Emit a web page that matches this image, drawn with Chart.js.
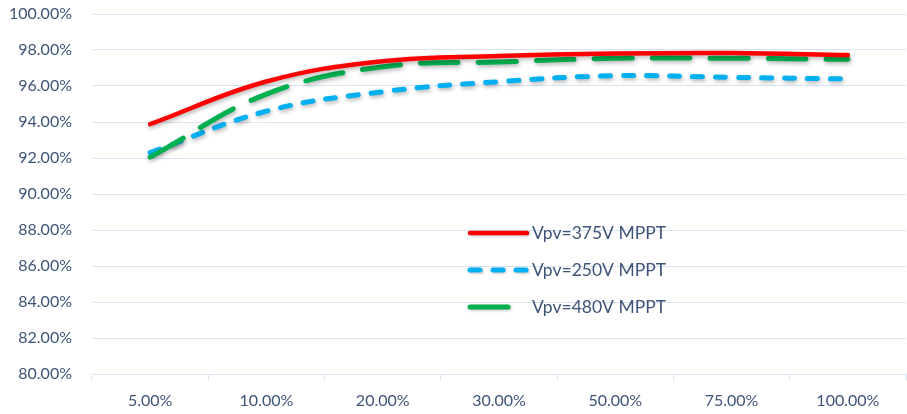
<!DOCTYPE html>
<html>
<head>
<meta charset="utf-8">
<script src="https://cdn.jsdelivr.net/npm/chart.js@4"></script>
<style>
  html, body { margin: 0; padding: 0; background: #fff; }
  #wrap { width: 907px; height: 414px; position: relative; }
</style>
</head>
<body>
<div id="wrap"><canvas id="c" width="907" height="414"></canvas></div>
<script>
const categories = ['5.00%', '10.00%', '20.00%', '30.00%', '50.00%', '75.00%', '100.00%'];
const vpv375 = [93.88, 96.25, 97.38, 97.66, 97.80, 97.83, 97.72];
const vpv250 = [92.30, 94.60, 95.68, 96.24, 96.57, 96.48, 96.39];
const vpv480 = [92.05, 95.55, 97.07, 97.33, 97.54, 97.54, 97.48];
const seriesNames = ['Vpv=375V MPPT', 'Vpv=250V MPPT', 'Vpv=480V MPPT'];
const yMin = 80, yMax = 100, yStep = 2;

const textColor = '#3f5478';
const gridColor = '#d9e3f2';
const font = "Lato, 'Open Sans', sans-serif";

const shadowPlugin = {
  id: 'shadow',
  beforeDatasetDraw(chart) {
    const ctx = chart.ctx;
    ctx.save();
    ctx.shadowColor = 'rgba(0,0,0,0.30)';
    ctx.shadowBlur = 4;
    ctx.shadowOffsetX = 1;
    ctx.shadowOffsetY = 2;
  },
  afterDatasetDraw(chart) {
    chart.ctx.restore();
  }
};

const legendPlugin = {
  id: 'innerLegend',
  afterDatasetsDraw(chart) {
    const ctx = chart.ctx;
    const items = [
      { ds: chart.data.datasets[0], y: 233, x2: 527 },
      { ds: chart.data.datasets[2], y: 270, x2: 527 },
      { ds: chart.data.datasets[1], y: 307, x2: 510 }
    ];
    items.forEach(it => {
      ctx.save();
      ctx.strokeStyle = it.ds.borderColor;
      ctx.lineWidth = it.ds.borderWidth;
      ctx.lineCap = 'round';
      ctx.setLineDash(it.ds.borderDash || []);
      ctx.shadowColor = 'rgba(0,0,0,0.25)';
      ctx.shadowBlur = 3;
      ctx.shadowOffsetX = 1;
      ctx.shadowOffsetY = 1;
      ctx.beginPath();
      ctx.moveTo(470, it.y);
      ctx.lineTo(it.x2, it.y);
      ctx.stroke();
      ctx.restore();
      ctx.save();
      ctx.fillStyle = textColor;
      ctx.font = '17.5px ' + font;
      ctx.textBaseline = 'middle';
      ctx.textAlign = 'left';
      ctx.fillText(it.ds.label, 532, it.y);
      ctx.restore();
    });
  }
};

new Chart(document.getElementById('c'), {
  type: 'line',
  data: {
    labels: categories,
    datasets: [
      { label: seriesNames[0], data: vpv375, borderColor: '#ff0000', borderWidth: 4.5,
        borderCapStyle: 'round', tension: 0.4, pointRadius: 0, fill: false },
      { label: seriesNames[2], data: vpv480, borderColor: '#00b050', borderWidth: 5,
        borderDash: [38, 20], borderCapStyle: 'round', tension: 0.4, pointRadius: 0, fill: false },
      { label: seriesNames[1], data: vpv250, borderColor: '#00b0f0', borderWidth: 5,
        borderDash: [10, 13], borderCapStyle: 'round', tension: 0.4, pointRadius: 0, fill: false }
    ]
  },
  options: {
    responsive: false,
    animation: false,
    layout: { padding: { top: 0, right: 1, left: 0, bottom: 0 } },
    plugins: { legend: { display: false }, tooltip: { enabled: false } },
    scales: {
      x: {
        offset: true,
        grid: { offset: true, drawOnChartArea: false, drawTicks: true, tickLength: 7, color: gridColor },
        border: { display: true, color: gridColor, width: 1 },
        ticks: { color: textColor, font: { family: font, size: 16 }, padding: 10, maxRotation: 0 },
        afterFit(s) { s.height = 40; s.paddingLeft = 0; s.paddingRight = 0; }
      },
      y: {
        min: yMin, max: yMax,
        grid: { color: gridColor, drawTicks: false },
        border: { display: false },
        ticks: { stepSize: yStep, color: textColor, font: { family: font, size: 16 }, padding: 20,
          callback: v => v.toFixed(2) + '%' },
        afterFit(s) { s.width = 92; s.paddingTop = 14; s.paddingBottom = 0; }
      }
    }
  },
  plugins: [shadowPlugin, legendPlugin]
});
</script>
</body>
</html>
